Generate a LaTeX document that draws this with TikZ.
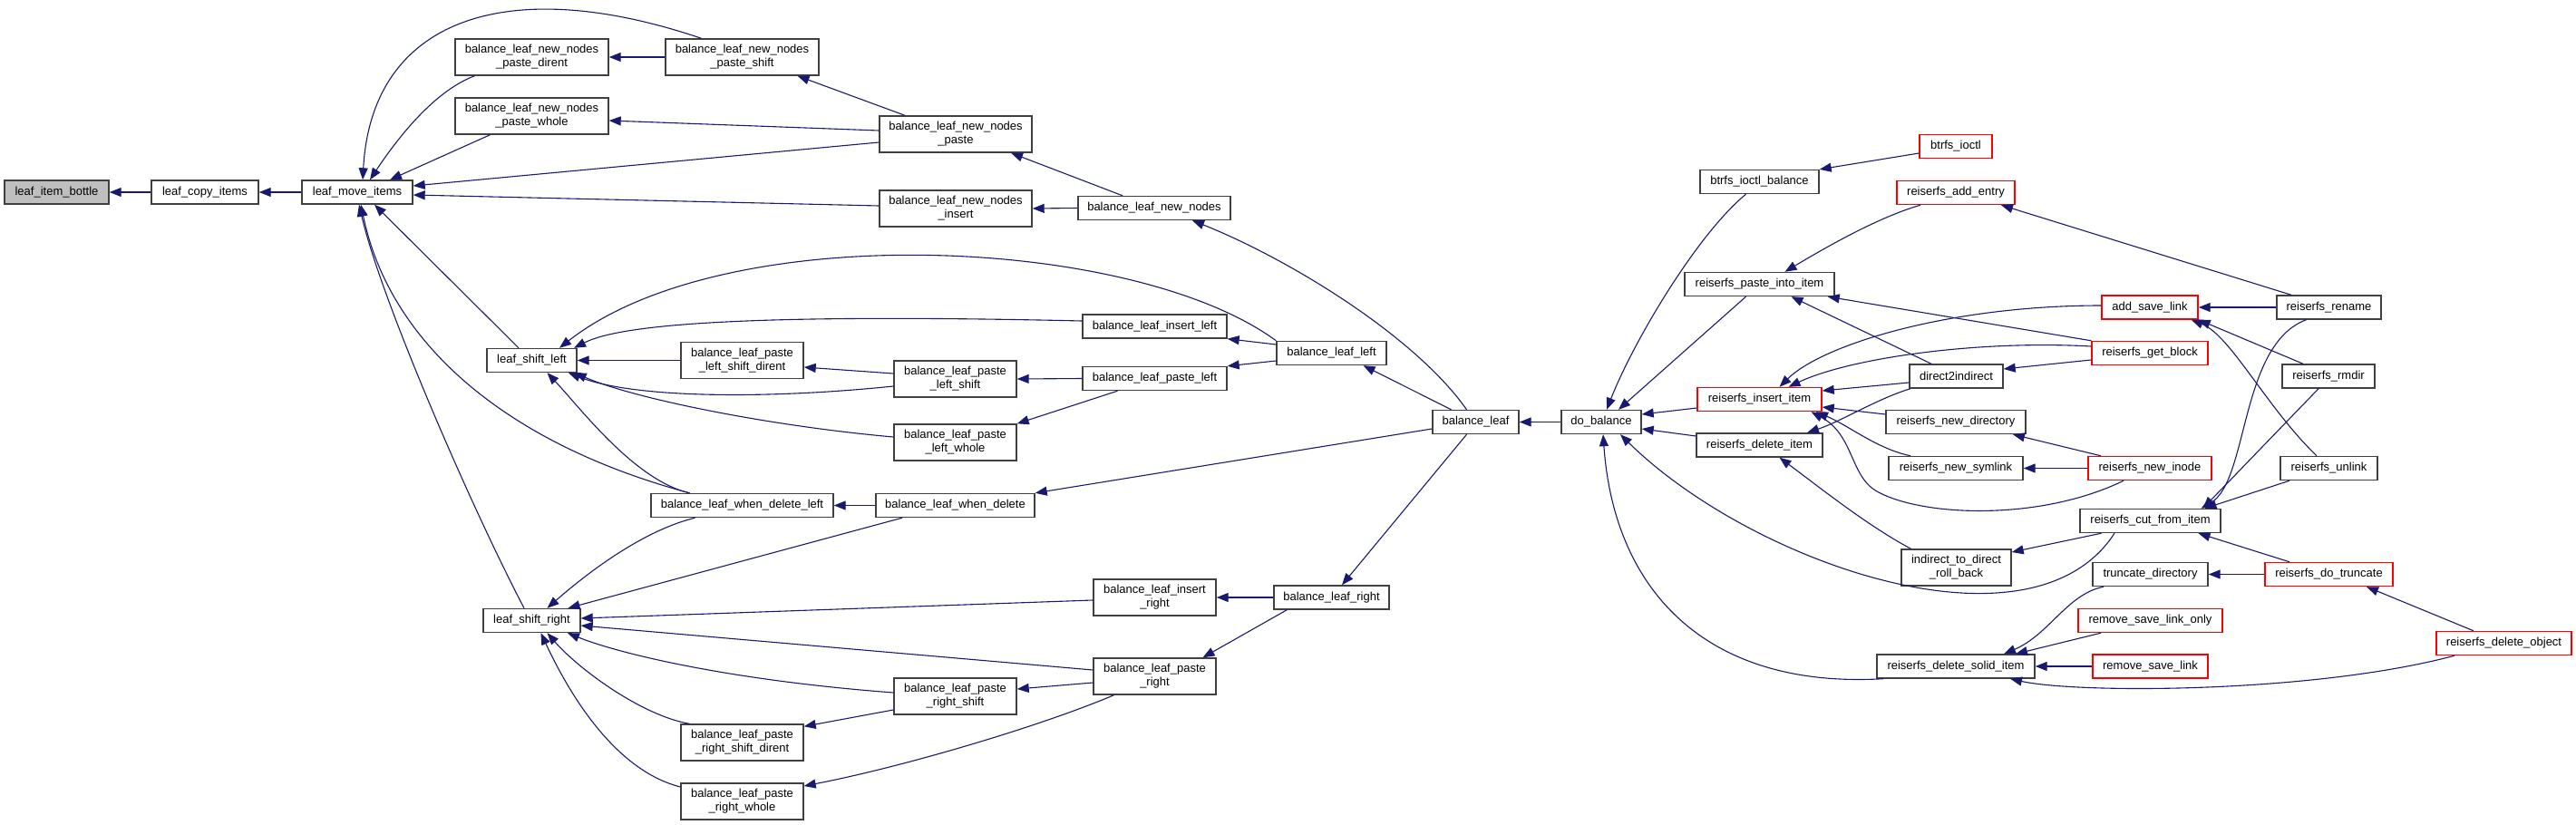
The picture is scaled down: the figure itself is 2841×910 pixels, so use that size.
\documentclass[tikz,border=0pt]{standalone}
\usepackage{fontspec}
\setmainfont{Liberation Sans}
\usepackage{xcolor}
\usetikzlibrary{arrows.meta}
\definecolor{edgeblue}{HTML}{191970}
\definecolor{grey25}{HTML}{404040}
\definecolor{grey75}{HTML}{BFBFBF}

\begin{document}
\begin{tikzpicture}[
  x=1pt, y=-1pt,
  every node/.style={font=\fontsize{13}{15}\selectfont},
  fn/.style={rectangle, draw=grey25, fill=white, line width=1.4pt, minimum height=26pt, inner sep=0pt, align=center},
  fn2/.style={fn, minimum height=40pt},
  trunc/.style={draw=red},
  root/.style={fill=grey75},
  call/.style={{Triangle[length=13pt,width=10pt]}-, draw=edgeblue, line width=1.1pt},
]
\useasboundingbox (0,0) rectangle (2841,910);

% Left part
\node[fn, root, minimum width=115pt] (bottle) at (62.5,212) {leaf\_item\_bottle};
\node[fn, minimum width=118pt] (copy) at (226,212) {leaf\_copy\_items};
\node[fn, minimum width=122pt] (move) at (394,212) {leaf\_move\_items};
\node[fn2, minimum width=169pt] (ndirent) at (586.5,63) {balance\_leaf\_new\_nodes\\\_paste\_dirent};
\node[fn2, minimum width=169pt] (nshift) at (818.5,63) {balance\_leaf\_new\_nodes\\\_paste\_shift};
\node[fn2, minimum width=169pt] (nwhole) at (586.5,128) {balance\_leaf\_new\_nodes\\\_paste\_whole};
\node[fn2, minimum width=168pt] (npaste) at (1054,148) {balance\_leaf\_new\_nodes\\\_paste};
\node[fn2, minimum width=168pt] (ninsert) at (1054,230) {balance\_leaf\_new\_nodes\\\_insert};
\node[fn, minimum width=168pt] (nnodes) at (1273,229.5) {balance\_leaf\_new\_nodes};
\node[fn, minimum width=99pt] (shl) at (586.5,397.5) {leaf\_shift\_left};
\node[fn2, minimum width=135pt] (lsdirent) at (818.5,397.5) {balance\_leaf\_paste\\\_left\_shift\_dirent};
\node[fn, minimum width=159pt] (insl) at (1273.5,360) {balance\_leaf\_insert\_left};
\node[fn2, minimum width=135pt] (plshift) at (1053.5,418) {balance\_leaf\_paste\\\_left\_shift};
\node[fn, minimum width=159pt] (pleft) at (1273.5,417.5) {balance\_leaf\_paste\_left};
\node[fn, minimum width=121pt] (bleft) at (1468.5,389.5) {balance\_leaf\_left};
\node[fn2, minimum width=135pt] (plwhole) at (1053.5,488) {balance\_leaf\_paste\\\_left\_whole};
\node[fn, minimum width=95pt] (bleaf) at (1627.5,465.5) {balance\_leaf};
\node[fn, minimum width=88pt] (dobal) at (1766,465.5) {do\_balance};
\node[fn, minimum width=201pt] (wdl) at (818.5,557.5) {balance\_leaf\_when\_delete\_left};
\node[fn, minimum width=175pt] (wd) at (1053.5,557.5) {balance\_leaf\_when\_delete};
\node[fn, minimum width=107pt] (shr) at (586.5,684.5) {leaf\_shift\_right};
\node[fn2, minimum width=135pt] (insr) at (1273.5,659) {balance\_leaf\_insert\\\_right};
\node[fn, minimum width=127pt] (bright) at (1468.5,659) {balance\_leaf\_right};
\node[fn2, minimum width=135pt] (pright) at (1273.5,746) {balance\_leaf\_paste\\\_right};
\node[fn2, minimum width=135pt] (prshift) at (1053.5,768) {balance\_leaf\_paste\\\_right\_shift};
\node[fn2, minimum width=135pt] (rsdirent) at (818.5,819) {balance\_leaf\_paste\\\_right\_shift\_dirent};
\node[fn2, minimum width=135pt] (rwhole) at (818.5,884) {balance\_leaf\_paste\\\_right\_whole};

% Right part
\node[fn, minimum width=131pt] (ioctlbal) at (1940.5,200.5) {btrfs\_ioctl\_balance};
\node[fn, trunc, minimum width=80pt] (ioctl) at (2157,161.5) {btrfs\_ioctl};
\node[fn, trunc, minimum width=130pt] (addentry) at (2157,212.5) {reiserfs\_add\_entry};
\node[fn, minimum width=165pt] (pasteinto) at (1940.5,313.5) {reiserfs\_paste\_into\_item};
\node[fn, trunc, minimum width=137pt] (insitem) at (1940.5,440.5) {reiserfs\_insert\_item};
\node[fn, minimum width=139pt] (delitem) at (1940.5,491) {reiserfs\_delete\_item};
\node[fn, trunc, minimum width=106pt] (addsave) at (2371,339) {add\_save\_link};
\node[fn, trunc, minimum width=128pt] (getblock) at (2371,389.5) {reiserfs\_get\_block};
\node[fn, minimum width=103pt] (d2i) at (2157.5,415) {direct2indirect};
\node[fn, minimum width=154pt] (newdir) at (2157,465.5) {reiserfs\_new\_directory};
\node[fn, minimum width=148pt] (newsym) at (2157,516.5) {reiserfs\_new\_symlink};
\node[fn, trunc, minimum width=136pt] (newinode) at (2371,516.5) {reiserfs\_new\_inode};
\node[fn2, minimum width=121pt] (rollback) at (2157.5,626) {indirect\_to\_direct\\\_roll\_back};
\node[fn, minimum width=155pt] (cutfrom) at (2371.5,574.5) {reiserfs\_cut\_from\_item};
\node[fn, minimum width=127pt] (truncdir) at (2371.5,633.5) {truncate\_directory};
\node[fn, trunc, minimum width=159pt] (rmlinkonly) at (2371.5,684.5) {remove\_save\_link\_only};
\node[fn, minimum width=174pt] (solid) at (2157,735) {reiserfs\_delete\_solid\_item};
\node[fn, trunc, minimum width=127pt] (rmlink) at (2371.5,735) {remove\_save\_link};
\node[fn, minimum width=115pt] (rename) at (2568.5,339) {reiserfs\_rename};
\node[fn, minimum width=102pt] (rmdir) at (2568,415) {reiserfs\_rmdir};
\node[fn, minimum width=107pt] (unlink) at (2568.5,516.5) {reiserfs\_unlink};
\node[fn, trunc, minimum width=141pt] (dotrunc) at (2568.5,633.5) {reiserfs\_do\_truncate};
\node[fn, trunc, minimum width=149pt] (delobj) at (2761.5,709.5) {reiserfs\_delete\_object};

% Arrows, left part
\draw[call] (bottle.east) -- (copy.west);
\draw[call] (copy.east) -- (move.west);
\draw[call] ([xshift=6pt]move.north) .. controls (410,20) and (560,-30) .. ([xshift=-45pt]nshift.north);
\draw[call] ([xshift=14pt]move.north) .. controls (440,150) and (480,100) .. ([xshift=-63pt]ndirent.south);
\draw[call] ([xshift=36pt]move.north) -- ([xshift=-46pt]nwhole.south);
\draw[call] ([yshift=7pt]move.east) -- ([yshift=-9pt]npaste.west);
\draw[call] ([yshift=-3pt]move.east) -- ([yshift=3pt]ninsert.west);
\draw[call] (ndirent.east) -- (nshift.west);
\draw[call] ([yshift=-5pt]nwhole.east) -- ([yshift=4pt]npaste.west);
\draw[call] ([xshift=61pt]nshift.south) -- ([xshift=-56pt]npaste.north);
\draw[call] ([xshift=61pt]npaste.south) -- ([xshift=-35pt]nnodes.north);
\draw[call] (ninsert.east) -- (nnodes.west);
\draw[call] ([xshift=42pt]nnodes.south) .. controls (1420,285) and (1560,370) .. ([xshift=-10pt]bleaf.north);
\draw[call] ([xshift=19pt]move.south) -- ([xshift=-14.5pt]shl.north);
\draw[call] ([xshift=4pt]move.south) .. controls (430,380) and (560,490) .. ([xshift=-58pt]wdl.north);
\draw[call] ([xshift=2pt]move.south) .. controls (420,330) and (520,560) .. ([xshift=-8.5pt]shr.north);
\draw[call] (shl.east) -- (lsdirent.west);
\draw[call] ([xshift=46.5pt]shl.north) .. controls (680,360) and (800,345) .. ([yshift=6pt]insl.west);
\draw[call] ([xshift=30.5pt]shl.north) .. controls (800,240) and (1250,260) .. (bleft.north west);
\draw[call] (insl.south east) -- ([yshift=9.5pt]bleft.west);
\draw[call] (pleft.north east) -- ([yshift=-8.5pt]bleft.west);
\draw[call] (plshift.east) -- (pleft.west);
\draw[call] (plwhole.north east) -- ([xshift=-41pt]pleft.south);
\draw[call] ([xshift=40.5pt]shl.south) .. controls (700,440) and (850,440) .. ([yshift=-8pt]plshift.west);
\draw[call] ([yshift=-7.5pt]lsdirent.east) -- ([yshift=6pt]plshift.west);
\draw[call] ([xshift=-3pt]shl.south east) .. controls (700,440) and (850,470) .. ([yshift=6pt]plwhole.west);
\draw[call] ([xshift=17pt]shl.south) .. controls (640,450) and (700,530) .. ([xshift=-58pt]wdl.north);
\draw[call] (wdl.east) -- (wd.west);
\draw[call] (wd.north east) -- ([yshift=-7.5pt]bleaf.west);
\draw[call] ([xshift=35pt]bleft.south) -- ([xshift=-27pt]bleaf.north);
\draw[call] (bleaf.east) -- (dobal.west);
\draw[call] ([xshift=17pt]shr.north) .. controls (650,630) and (710,585) .. ([xshift=-52pt]wdl.south);
\draw[call] ([xshift=40pt]shr.north) -- ([xshift=-58.5pt]wd.south);
\draw[call] ([yshift=2.5pt]shr.east) -- ([yshift=-3pt]insr.west);
\draw[call] ([yshift=-5.5pt]shr.east) -- ([yshift=7pt]pright.west);
\draw[call] ([xshift=39.5pt]shr.south) .. controls (680,720) and (800,750) .. ([yshift=4pt]prshift.west);
\draw[call] ([yshift=-3pt]rsdirent.north east) -- ([yshift=-15pt]prshift.west);
\draw[call] ([xshift=17pt]shr.south) .. controls (640,740) and (710,790) .. ([xshift=-58pt]rsdirent.north);
\draw[call] ([xshift=10pt]shr.south) .. controls (630,770) and (680,850) .. ([yshift=16pt]rwhole.west);
\draw[call] ([yshift=17pt]rwhole.east) .. controls (1000,845) and (1150,800) .. ([xshift=-45pt]pright.south);
\draw[call] ([yshift=8pt]prshift.east) -- ([yshift=-7pt]pright.west);
\draw[call] (insr.east) -- (bright.west);
\draw[call] ([xshift=53pt]pright.north) -- ([xshift=15pt]bright.south west);
\draw[call] ([xshift=11.5pt]bright.north) -- ([xshift=-10pt]bleaf.south);

% Arrows, right part
\draw[call] ([xshift=6pt]dobal.north) .. controls (1800,380) and (1870,260) .. ([xshift=-15pt]ioctlbal.south);
\draw[call] (ioctlbal.north east) -- ([yshift=-7.5pt]ioctl.west);
\draw[call] ([xshift=19pt]dobal.north) -- ([xshift=-15pt]pasteinto.south);
\draw[call] ([yshift=8.5pt]dobal.east) -- ([yshift=-9.5pt]insitem.west);
\draw[call] ([yshift=-7.5pt]dobal.east) -- ([yshift=10pt]delitem.west);
\draw[call] ([xshift=21pt]dobal.south) .. controls (1930,620) and (2240,730) .. ([xshift=-39.5pt]cutfrom.south);
\draw[call] ([xshift=2pt]dobal.south) .. controls (1780,650) and (1880,760) .. ([xshift=-80pt]solid.south);
\draw[call] ([xshift=28pt]pasteinto.north) .. controls (2010,275) and (2070,240) .. ([xshift=-39pt]addentry.south);
\draw[call] ([xshift=-8pt]pasteinto.south east) -- (getblock.north west);
\draw[call] ([xshift=35pt]pasteinto.south) -- ([xshift=-27.5pt]d2i.north);
\draw[call] ([xshift=22pt]insitem.north) .. controls (2010,380) and (2150,337) .. ([yshift=2pt]addsave.west);
\draw[call] ([xshift=32pt]insitem.north) .. controls (2040,395) and (2180,375) .. ([yshift=7.5pt]getblock.west);
\draw[call] ([yshift=9.5pt]insitem.east) -- ([yshift=-7pt]d2i.west);
\draw[call] ([yshift=-8.5pt]insitem.east) -- ([yshift=8.5pt]newdir.west);
\draw[call] ([xshift=62.5pt]insitem.south) .. controls (2040,470) and (2070,495) .. ([xshift=-50pt]newsym.north);
\draw[call] ([xshift=57pt]insitem.south) .. controls (2045,480) and (2040,525) .. (2070,542) .. controls (2120,570) and (2250,575) .. ([xshift=-29pt]newinode.south);
\draw[call] ([xshift=52.5pt]delitem.north) .. controls (2030,465) and (2070,440) .. ([xshift=-50.5pt]d2i.south);
\draw[call] ([xshift=22pt]delitem.south) .. controls (2010,540) and (2060,580) .. ([xshift=-50pt]rollback.north);
\draw[call] ([yshift=8pt]d2i.east) -- ([yshift=-7.5pt]getblock.west);
\draw[call] (addsave.east) -- (rename.west);
\draw[call] ([xshift=50pt]addentry.south) -- ([xshift=-41.5pt]rename.north);
\draw[call] (addsave.south east) -- ([xshift=-28pt]rmdir.north);
\draw[call] ([xshift=-8pt]addsave.south east) .. controls (2460,370) and (2500,450) .. ([xshift=-13.5pt]unlink.north);
\draw[call] ([xshift=63pt]newdir.south) -- ([xshift=-54pt]newinode.north);
\draw[call] (newsym.east) -- (newinode.west);
\draw[call] ([yshift=17pt]rollback.east) -- ([xshift=-54pt]cutfrom.south);
\draw[call] ([xshift=56pt]cutfrom.north) .. controls (2480,530) and (2470,380) .. ([xshift=-25pt]rename.south);
\draw[call] ([xshift=58pt]cutfrom.north) -- ([xshift=-11pt]rmdir.south);
\draw[call] ([xshift=60pt]cutfrom.north) -- ([xshift=-43.5pt]unlink.south);
\draw[call] ([xshift=53pt]cutfrom.south) -- ([xshift=-43.5pt]dotrunc.north);
\draw[call] (truncdir.east) -- (dotrunc.west);
\draw[call] ([xshift=53pt]solid.north) .. controls (2260,700) and (2280,655) .. ([xshift=-51.5pt]truncdir.south);
\draw[call] ([xshift=66pt]solid.north) -- ([xshift=-54.5pt]rmlinkonly.south);
\draw[call] (solid.east) -- (rmlink.west);
\draw[call] ([xshift=60pt]solid.south) .. controls (2290,765) and (2550,765) .. ([xshift=-54.5pt]delobj.south);
\draw[call] ([xshift=41.5pt]dotrunc.south) -- ([xshift=-33.5pt]delobj.north);

\end{tikzpicture}
\end{document}
